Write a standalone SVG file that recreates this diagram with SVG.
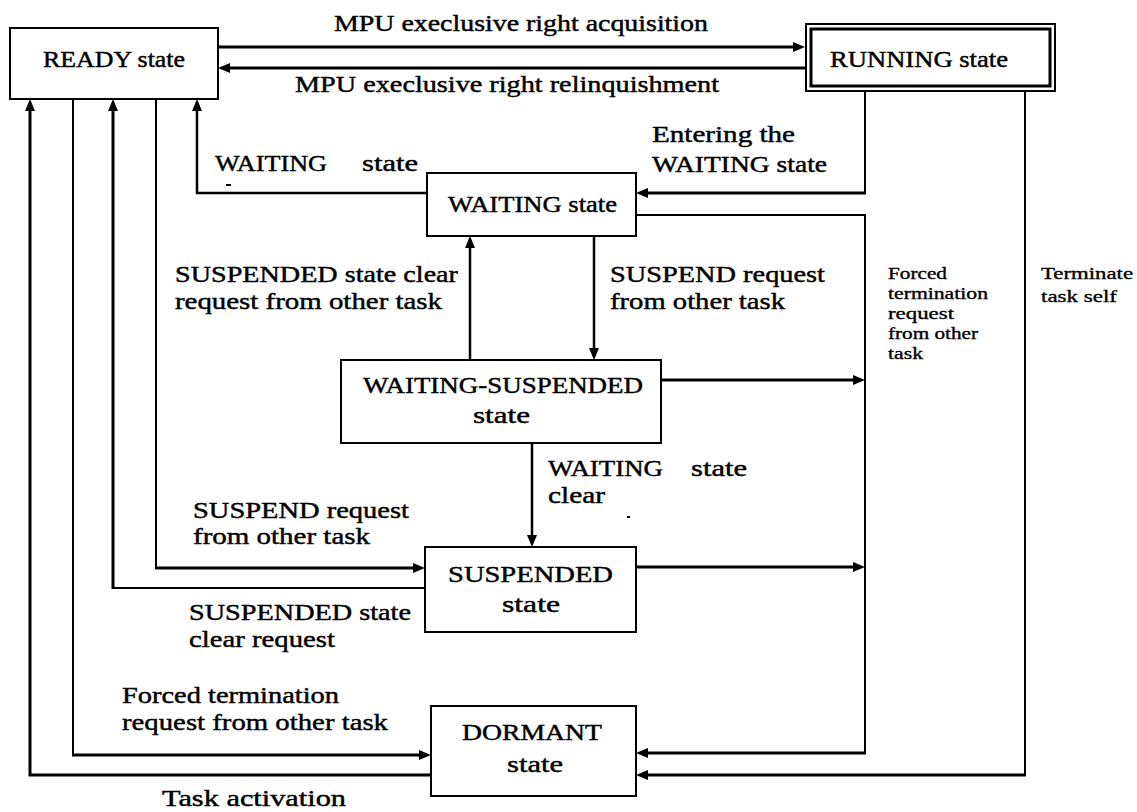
<svg xmlns="http://www.w3.org/2000/svg" width="1137" height="812" viewBox="0 0 1137 812">
<style>
.box{fill:#fff;stroke:#000;stroke-width:2}
.t{font-family:"Liberation Serif","Times New Roman",serif;font-size:24px;fill:#000;stroke:#000;stroke-width:0.45}
.s{font-family:"Liberation Serif","Times New Roman",serif;font-size:17px;fill:#000;stroke:#000;stroke-width:0.35}
.c{fill:none;stroke:#000;stroke-width:2}
.ct{fill:none;stroke:#000;stroke-width:3}
</style>
<defs>
<marker id="ah" viewBox="0 0 12 10" refX="4" refY="5" markerWidth="12" markerHeight="10" markerUnits="userSpaceOnUse" orient="auto"><path d="M0,0 L12,5 L0,10 z" fill="#000"/></marker>
</defs>
<rect width="1137" height="812" fill="#fff"/>
<g id="connectors">
<path class="ct" d="M218,47 H797" marker-end="url(#ah)"/>
<path class="ct" d="M805,68 H226" marker-end="url(#ah)"/>
<path class="c" d="M865,91 V193"/>
<path class="ct" d="M866,193 H644" marker-end="url(#ah)"/>
<path class="c" d="M1025,91 V775"/>
<path class="ct" d="M1026,775 H644" marker-end="url(#ah)"/>
<path class="c" d="M636,215 H865 V753"/>
<path class="ct" d="M866,753 H644" marker-end="url(#ah)"/>
<path class="ct" d="M661,380 H857" marker-end="url(#ah)"/>
<path class="ct" d="M636,567 H857" marker-end="url(#ah)"/>
<path class="c" d="M427,193 H197 V107" marker-end="url(#ah)" style="stroke-width:2.5"/>
<path class="c" d="M594,236 V352" marker-end="url(#ah)" style="stroke-width:2.5"/>
<path class="c" d="M470,360 V244" marker-end="url(#ah)" style="stroke-width:2.5"/>
<path class="c" d="M532,443 V539" marker-end="url(#ah)" style="stroke-width:2.5"/>
<path class="c" d="M156,99 V568"/>
<path class="ct" d="M155,568 H417" marker-end="url(#ah)"/>
<path class="c" d="M425,588 H113"/>
<path class="ct" d="M113,589 V107" marker-end="url(#ah)"/>
<path class="c" d="M73,99 V755"/>
<path class="ct" d="M72,755 H423" marker-end="url(#ah)"/>
<path class="ct" d="M431,775 H30 V107" marker-end="url(#ah)"/>
</g>
<g id="ready">
<rect class="box" x="10" y="28" width="208" height="71"/>
<text class="t" x="43" y="67" textLength="142" lengthAdjust="spacingAndGlyphs">READY state</text>
</g>
<g id="running">
<rect class="box" x="806" y="24" width="249" height="67"/>
<rect class="box" x="811" y="29" width="239" height="57" style="stroke-width:3"/>
<text class="t" x="830" y="67" textLength="178" lengthAdjust="spacingAndGlyphs">RUNNING state</text>
</g>
<g id="waiting">
<rect class="box" x="427" y="173" width="209" height="63"/>
<text class="t" x="448" y="212" textLength="169" lengthAdjust="spacingAndGlyphs">WAITING state</text>
</g>
<g id="waiting-suspended">
<rect class="box" x="341" y="360" width="320" height="83"/>
<text class="t" x="363" y="393" textLength="280" lengthAdjust="spacingAndGlyphs">WAITING-SUSPENDED</text>
<text class="t" x="473" y="423" textLength="57" lengthAdjust="spacingAndGlyphs">state</text>
</g>
<g id="suspended">
<rect class="box" x="425" y="547" width="211" height="85"/>
<text class="t" x="448" y="582" textLength="165" lengthAdjust="spacingAndGlyphs">SUSPENDED</text>
<text class="t" x="502" y="612" textLength="58" lengthAdjust="spacingAndGlyphs">state</text>
</g>
<g id="dormant">
<rect class="box" x="431" y="706" width="205" height="90"/>
<text class="t" x="462" y="740" textLength="140" lengthAdjust="spacingAndGlyphs">DORMANT</text>
<text class="t" x="507" y="772" textLength="56" lengthAdjust="spacingAndGlyphs">state</text>
</g>
<g id="labels">
<text class="t" x="334" y="31" textLength="374" lengthAdjust="spacingAndGlyphs">MPU execlusive right acquisition</text>
<text class="t" x="295" y="92" textLength="424" lengthAdjust="spacingAndGlyphs">MPU execlusive right relinquishment</text>
<text class="t" x="652" y="142" textLength="143" lengthAdjust="spacingAndGlyphs">Entering the</text>
<text class="t" x="652" y="172" textLength="175" lengthAdjust="spacingAndGlyphs">WAITING state</text>
<text class="t" x="215" y="171" textLength="112" lengthAdjust="spacingAndGlyphs">WAITING</text>
<text class="t" x="362" y="171" textLength="56" lengthAdjust="spacingAndGlyphs">state</text>
<rect x="226" y="184" width="5" height="2" fill="#000"/>
<text class="t" x="175" y="282" textLength="283" lengthAdjust="spacingAndGlyphs">SUSPENDED state clear</text>
<text class="t" x="175" y="309" textLength="267" lengthAdjust="spacingAndGlyphs">request from other task</text>
<text class="t" x="610" y="282" textLength="215" lengthAdjust="spacingAndGlyphs">SUSPEND request</text>
<text class="t" x="610" y="309" textLength="175" lengthAdjust="spacingAndGlyphs">from other task</text>
<text class="s" x="888" y="279" textLength="59" lengthAdjust="spacingAndGlyphs">Forced</text>
<text class="s" x="888" y="299" textLength="100" lengthAdjust="spacingAndGlyphs">termination</text>
<text class="s" x="888" y="319" textLength="66" lengthAdjust="spacingAndGlyphs">request</text>
<text class="s" x="888" y="339" textLength="90" lengthAdjust="spacingAndGlyphs">from other</text>
<text class="s" x="888" y="359" textLength="35" lengthAdjust="spacingAndGlyphs">task</text>
<text class="s" x="1041" y="279" textLength="92" lengthAdjust="spacingAndGlyphs">Terminate</text>
<text class="s" x="1041" y="302" textLength="76" lengthAdjust="spacingAndGlyphs">task self</text>
<text class="t" x="548" y="476" textLength="115" lengthAdjust="spacingAndGlyphs">WAITING</text>
<text class="t" x="691" y="476" textLength="56" lengthAdjust="spacingAndGlyphs">state</text>
<text class="t" x="548" y="503" textLength="57" lengthAdjust="spacingAndGlyphs">clear</text>
<rect x="627" y="516" width="3" height="2" fill="#000"/>
<text class="t" x="193" y="518" textLength="216" lengthAdjust="spacingAndGlyphs">SUSPEND request</text>
<text class="t" x="193" y="544" textLength="177" lengthAdjust="spacingAndGlyphs">from other task</text>
<text class="t" x="189" y="620" textLength="222" lengthAdjust="spacingAndGlyphs">SUSPENDED state</text>
<text class="t" x="189" y="647" textLength="146" lengthAdjust="spacingAndGlyphs">clear request</text>
<text class="t" x="122" y="703" textLength="217" lengthAdjust="spacingAndGlyphs">Forced termination</text>
<text class="t" x="122" y="730" textLength="266" lengthAdjust="spacingAndGlyphs">request from other task</text>
<text class="t" x="162" y="806" textLength="184" lengthAdjust="spacingAndGlyphs">Task activation</text>
</g>
</svg>
